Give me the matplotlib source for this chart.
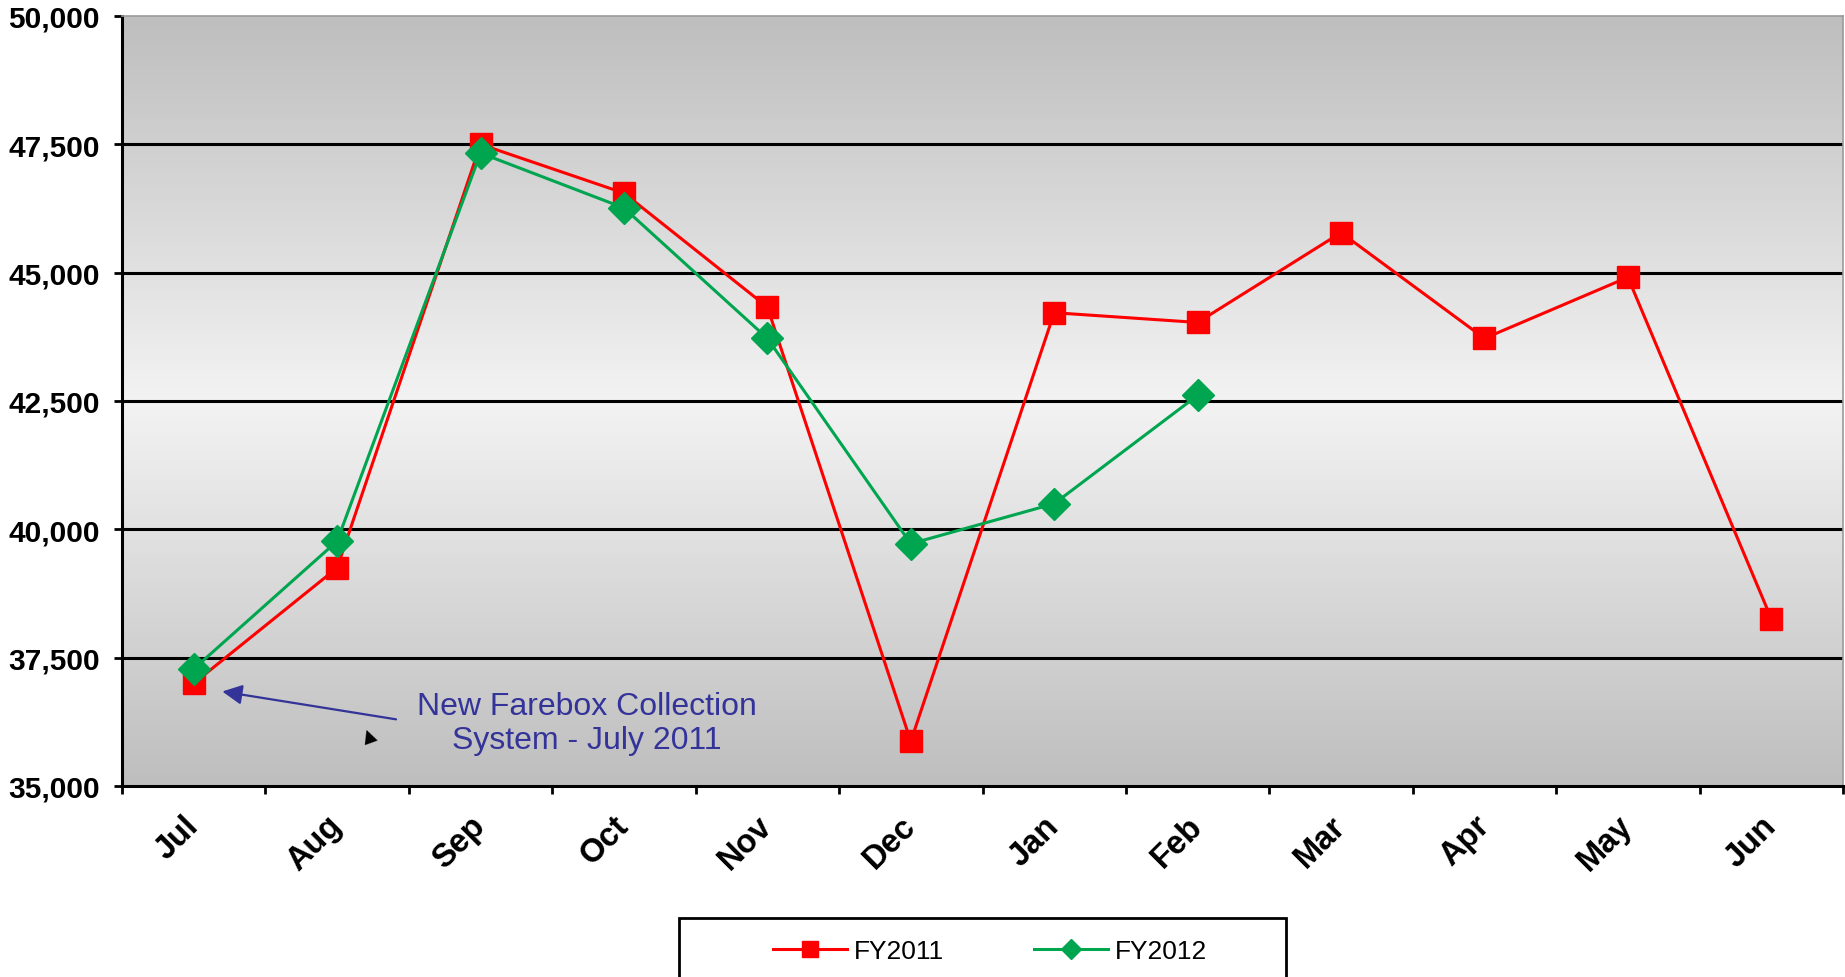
import numpy as np
import matplotlib
matplotlib.use("Agg")
from matplotlib import pyplot as plt
from matplotlib.colors import LinearSegmentedColormap
from matplotlib.lines import Line2D
from matplotlib.patches import Rectangle
from matplotlib.ticker import FuncFormatter

#------DATA-----
months = ['Jul', 'Aug', 'Sep', 'Oct', 'Nov', 'Dec', 'Jan', 'Feb', 'Mar', 'Apr', 'May', 'Jun']
fy2011 = [37000, 39250, 47500, 46550, 44330, 35870, 44220, 44030, 45780, 43720, 44910, 38260]
fy2012 = [37280, 39770, 47330, 46260, 43720, 39720, 40500, 42610]
yticks = [35000, 37500, 40000, 42500, 45000, 47500, 50000]

plt.rcParams['font.family'] = ['Liberation Sans', 'DejaVu Sans']

fig = plt.figure(figsize=(18.45, 9.78), dpi=100)
ax = fig.add_axes([122/1845, 1 - 787/978, (1843 - 122)/1845, (787 - 17)/978])

#gradient background, gray-white-gray
cmap = LinearSegmentedColormap.from_list('bg', [(0, '#bebebe'), (0.5, '#f3f3f3'), (1, '#bebebe')])
grad = np.linspace(0, 1, 256).reshape(-1, 1)
ax.imshow(grad, cmap=cmap, extent=[0, 1, 0, 1], transform=ax.transAxes,
          aspect='auto', origin='lower', zorder=0)

x = np.arange(len(months))
for yv in yticks[1:-1]:
    ax.axhline(yv, color='black', lw=2.2, zorder=1)

ax.plot(x, fy2011, color='#ff0000', lw=2.2, marker='s', ms=15.5, mec='#ff0000', mfc='#ff0000', zorder=3, label='FY2011')
ax.plot(x[:len(fy2012)], fy2012, color='#00a550', lw=2.2, marker='D', ms=16, mec='#00a550', mfc='#00a550', zorder=4, label='FY2012')

ax.set_xlim(-0.5, len(months) - 0.5)
ax.set_ylim(35000, 50000)
ax.set_yticks(yticks)
ax.yaxis.set_major_formatter(FuncFormatter(lambda v, p: f'{int(v):,}'))
ax.tick_params(axis='y', length=6, width=2, pad=10, labelsize=21.5)
for lab in ax.get_yticklabels():
    lab.set_fontweight('bold')

ax.set_xticks(x)
ax.set_xticklabels(months, rotation=45, ha='right', va='center', rotation_mode='anchor',
                   fontsize=23.5, fontweight='bold')
ax.set_xticks(np.arange(-0.5, len(months)), minor=True)
ax.tick_params(axis='x', which='major', length=0, pad=25)
ax.tick_params(axis='x', which='minor', length=6, width=2)

for s in ['left', 'bottom']:
    ax.spines[s].set_linewidth(2.2)
    ax.spines[s].set_color('black')
for s in ['top', 'right']:
    ax.spines[s].set_linewidth(1.2)
    ax.spines[s].set_color('#9a9a9a')

#annotation
ax.annotate('', xy=(0.18, 36850), xytext=(1.43, 36290),
            arrowprops=dict(arrowstyle='-|>', color='#333399', lw=1.6, mutation_scale=30), zorder=5)
ax.text(2.74, 36230, 'New Farebox Collection\nSystem - July 2011', color='#333399',
        fontsize=23, ha='center', va='center', linespacing=1.2, zorder=5)
#stray arrowhead left over in the original
ax.text(0.1435, 0.066, '\u25B2', transform=ax.transAxes, fontsize=13, rotation=20,
        ha='center', va='center', color='black', family='DejaVu Sans', zorder=5)

#legend
fig.patches.append(Rectangle((679/1845, -0.02), (1286 - 679)/1845, 1 - 919/978 + 0.02,
                             transform=fig.transFigure, fill=False, ec='black', lw=2))
handles = [Line2D([], [], color='#ff0000', lw=2.2, marker='s', ms=11.5),
           Line2D([], [], color='#00a550', lw=2.2, marker='D', ms=10)]
fig.legend(handles, ['FY2011', 'FY2012'], loc='center', bbox_to_anchor=(990/1845, 1 - 952/978),
           ncol=2, frameon=False, fontsize=19, handlelength=2.8, handletextpad=0.27, columnspacing=3.4)

fig.savefig('out.png', dpi=100)
